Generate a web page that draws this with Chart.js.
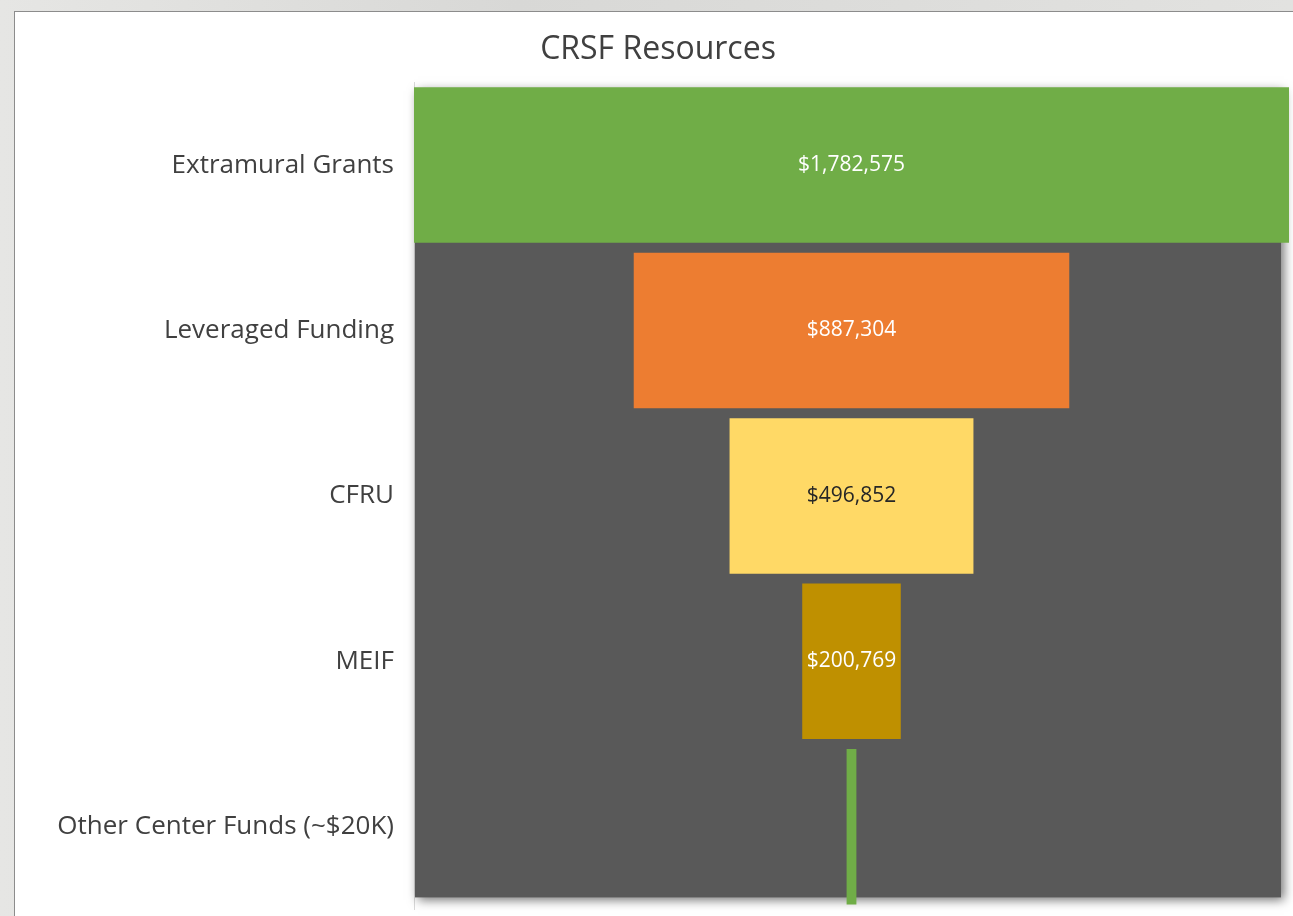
<!DOCTYPE html>
<html>
<head>
<meta charset="utf-8">
<script src="https://cdn.jsdelivr.net/npm/chart.js@4"></script>
<style>
  html, body { margin: 0; padding: 0; }
  body { width: 1293px; height: 916px; overflow: hidden; background: linear-gradient(90deg, #e6e6e4 0%, #d8d8d6 40%, #e2e2e0 100%); position: relative; }
  #panel { position: absolute; left: 14px; top: 11px; width: 1290px; height: 920px; background: #fff; border: 1px solid #8c8c8c; }
  #wrap { position: absolute; left: 0; top: 0; width: 1293px; height: 945px; }
</style>
</head>
<body>
<div id="panel"></div>
<div id="wrap"><canvas id="funnel"></canvas></div>
<script>
// funnel data
const categories = ['Extramural Grants', 'Leveraged Funding', 'CFRU', 'MEIF', 'Other Center Funds (~$20K)'];
const amounts = [1782575, 887304, 496852, 200769, 20000];
const valueLabels = ['$1,782,575', '$887,304', '$496,852', '$200,769', ''];
const barColors = ['#70AD47', '#ED7D31', '#FFD966', '#BF9000', '#70AD47'];
const labelColors = ['#ffffff', '#ffffff', '#262626', '#ffffff', '#ffffff'];

const half = Math.max(...amounts) / 2;

// dark panel behind the funnel
const panelBg = {
    id: 'panelBg',
    beforeDatasetsDraw(chart) {
        const { ctx, chartArea } = chart;
        ctx.save();
        ctx.shadowColor = 'rgba(0,0,0,0.55)';
        ctx.shadowBlur = 10;
        ctx.shadowOffsetX = 3;
        ctx.shadowOffsetY = 3;
        ctx.fillStyle = '#595959';
        ctx.fillRect(chartArea.left + 1, chartArea.top + 6, chartArea.right - chartArea.left - 9, chartArea.bottom - chartArea.top - 18);
        ctx.restore();
    }
};

// value labels inside bars
const barText = {
    id: 'barText',
    afterDatasetsDraw(chart) {
        const { ctx } = chart;
        const meta = chart.getDatasetMeta(0);
        ctx.save();
        ctx.font = '21px "Open Sans", sans-serif';
        ctx.textAlign = 'center';
        ctx.textBaseline = 'middle';
        meta.data.forEach((bar, i) => {
            if (!valueLabels[i]) return;
            ctx.fillStyle = labelColors[i];
            ctx.fillText(valueLabels[i], (bar.x + bar.base) / 2, bar.y);
        });
        ctx.restore();
    }
};

const ctx = document.getElementById('funnel').getContext('2d');
const chart = new Chart(ctx, {
    type: 'bar',
    data: {
        labels: categories,
        datasets: [{
            data: amounts.map(v => [-v / 2, v / 2]),
            backgroundColor: barColors,
            borderWidth: 0,
            borderSkipped: false,
            barPercentage: 0.94,
            categoryPercentage: 1
        }]
    },
    options: {
        indexAxis: 'y',
        responsive: true,
        maintainAspectRatio: false,
        animation: false,
        layout: { autoPadding: false, padding: { left: 27, right: 4, top: 0, bottom: 7 } },
        scales: {
            x: { display: false, min: -half, max: half },
            y: {
                grid: { display: false, drawTicks: false },
                border: { display: true, color: '#d9d9d9', width: 1 },
                ticks: {
                    color: '#404040',
                    padding: 20,
                    font: { family: '"Open Sans", sans-serif', size: 26 }
                },
                afterFit(scale) { scale.width = 387; }
            }
        },
        plugins: {
            legend: { display: false },
            tooltip: { enabled: false },
            title: {
                display: true,
                text: 'CRSF Resources',
                color: '#404040',
                font: { family: '"Open Sans", sans-serif', size: 32, weight: 'normal' },
                padding: { top: 31, bottom: 13 }
            }
        }
    },
    plugins: [panelBg, barText]
});
</script>
</body>
</html>
